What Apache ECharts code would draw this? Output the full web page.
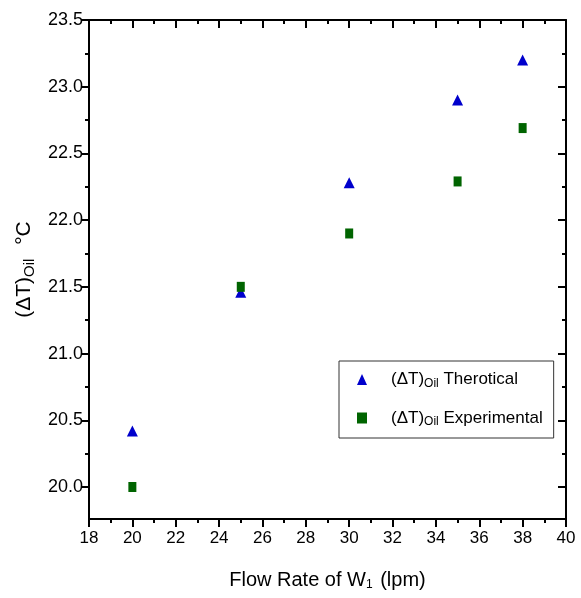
<!DOCTYPE html>
<html><head><meta charset="utf-8">
<script src="https://cdn.jsdelivr.net/npm/echarts@6/dist/echarts.min.js"></script>
<style>html,body{margin:0;padding:0;background:#fff}#c{width:581px;height:598px}</style>
</head><body><div id="c"></div>
<script>
const flowRate = [20, 25, 30, 35, 38];
const theoretical = [20.42, 21.46, 22.28, 22.90, 23.20];
const experimental = [20.00, 21.50, 21.90, 22.29, 22.69];
const yMajorTicks = [20.0, 20.5, 21.0, 21.5, 22.0, 22.5, 23.0, 23.5];
const yMinorTicks = [20.25, 20.75, 21.25, 21.75, 22.25, 22.75, 23.25];

const FONT = '"Liberation Sans",Arial,sans-serif';
const chart = echarts.init(document.getElementById('c'));
const yBase = {type:'value', min:19.76, max:23.5, splitLine:{show:false}};
const axLine = {show:true, lineStyle:{color:'#000', width:2}};
chart.setOption({
  animation:false,
  grid:{left:89, top:20, right:15, bottom:79},
  legend:{
    orient:'vertical', left:339, top:361,
    padding:[10, 11, 10, 18], itemGap:20,
    borderColor:'#333', borderWidth:1,
    itemWidth:10, itemHeight:11,
    data:[{name:'theo', icon:'triangle'},{name:'exp', icon:'rect'}],
    formatter: n => n==='theo' ? '(ΔT){sub|Oil} Therotical' : '(ΔT){sub|Oil} Experimental',
    textStyle:{fontFamily:FONT, fontSize:17, color:'#000', padding:[0,0,0,19],
      rich:{sub:{fontFamily:FONT, fontSize:12, color:'#000', verticalAlign:'bottom', padding:[8,0,0,0]}}}
  },
  xAxis:[
    {type:'value', min:18, max:40, interval:2, position:'bottom',
     axisLine:axLine, splitLine:{show:false},
     axisTick:{show:true, length:8, inside:false, lineStyle:{color:'#000', width:2}},
     minorTick:{show:true, splitNumber:2, length:4, lineStyle:{color:'#000', width:2}},
     axisLabel:{fontFamily:FONT, fontSize:17, color:'#000', margin:11},
     name:'Flow Rate of W{sub|1} (lpm)', nameLocation:'middle', nameGap:50,
     nameTextStyle:{fontFamily:FONT, fontSize:20, color:'#000',
       rich:{sub:{fontFamily:FONT, fontSize:12, color:'#000', verticalAlign:'bottom', padding:[10,2,0,0]}}}},
    {type:'value', min:18, max:40, interval:2, position:'top',
     axisLine:axLine, splitLine:{show:false},
     axisTick:{show:true, length:8, inside:true, lineStyle:{color:'#000', width:2}},
     minorTick:{show:true, splitNumber:2, length:4, lineStyle:{color:'#000', width:2}},
     axisLabel:{show:false}}
  ],
  yAxis:[
    Object.assign({}, yBase, {position:'left', axisLine:axLine,
      axisTick:{show:true, customValues:yMajorTicks, length:8, lineStyle:{color:'#000', width:2}},
      axisLabel:{customValues:yMajorTicks, fontFamily:FONT, fontSize:18, color:'#000', margin:6,
        formatter:v=>Number(v).toFixed(1)},
      name:'(ΔT){sub|Oil} °C', nameLocation:'middle', nameGap:50, nameRotate:90,
      nameTextStyle:{fontFamily:FONT, fontSize:21, color:'#000',
        rich:{sub:{fontFamily:FONT, fontSize:15, color:'#000', verticalAlign:'bottom', padding:[10,8,0,0]}}}}),
    Object.assign({}, yBase, {position:'right', axisLine:axLine,
      axisTick:{show:true, inside:true, customValues:yMajorTicks, length:8, lineStyle:{color:'#000', width:2}},
      axisLabel:{show:false}}),
    Object.assign({}, yBase, {position:'left', axisLine:{show:false},
      axisTick:{show:true, customValues:yMinorTicks, length:4, lineStyle:{color:'#000', width:2}},
      axisLabel:{show:false}}),
    Object.assign({}, yBase, {position:'right', axisLine:{show:false},
      axisTick:{show:true, inside:true, customValues:yMinorTicks, length:4, lineStyle:{color:'#000', width:2}},
      axisLabel:{show:false}})
  ],
  series:[
    {name:'theo', type:'scatter', symbol:'triangle', symbolSize:[11,11],
     itemStyle:{color:'#0000CC', opacity:1}, z:2,
     data:flowRate.map((x,i)=>[x, theoretical[i]])},
    {name:'exp', type:'scatter', symbol:'rect', symbolSize:[8,10],
     itemStyle:{color:'#006400', opacity:1}, z:3,
     data:flowRate.map((x,i)=>[x, experimental[i]])}
  ]
});
</script></body></html>
